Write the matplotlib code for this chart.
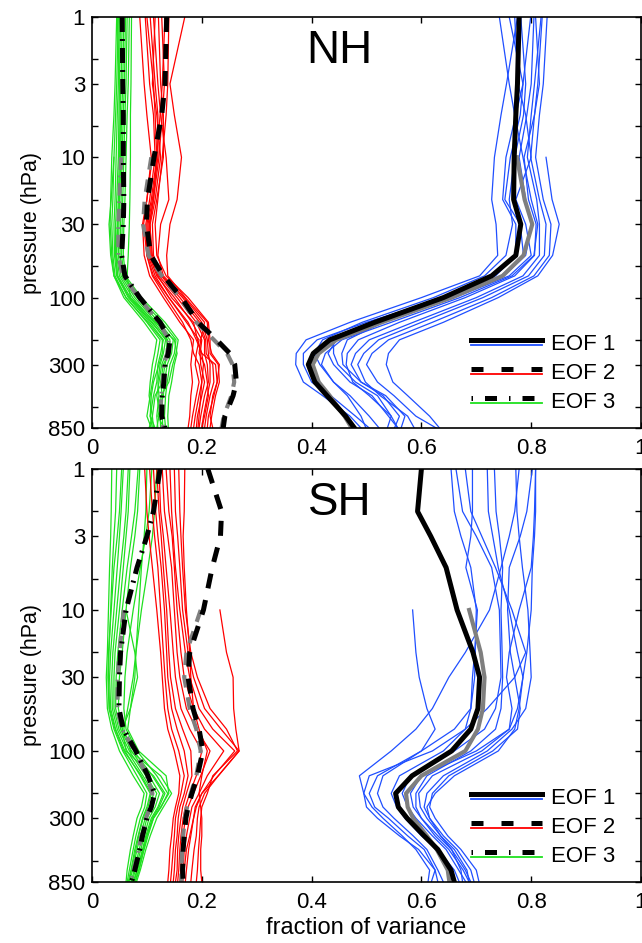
import numpy as np
import matplotlib
matplotlib.use("Agg")
import matplotlib.pyplot as plt
from matplotlib.lines import Line2D
from matplotlib.legend_handler import HandlerBase
from matplotlib.ticker import NullFormatter

plt.rcParams['font.family'] = ['Liberation Sans', 'DejaVu Sans']

NA = np.nan

# pressure levels (hPa)
lev_nh = [1, 3, 5, 10, 20, 30, 50, 70, 100, 150, 200, 250, 300, 400, 500, 700, 850]
lev_sh = [1, 2, 3, 5, 10, 20, 30, 50, 70, 100, 150, 200, 250, 300, 400, 500, 700, 850]

ytick_major = [1, 3, 10, 30, 100, 300, 850]
ytick_minor = [2, 6, 20, 60, 200, 600]
xtick_vals = [0, 0.2, 0.4, 0.6, 0.8, 1]
xtick_labs = ['0', '0.2', '0.4', '0.6', '0.8', '1']

# ---------------- NH ----------------
nh_eof1_ref = [0.778, 0.775, 0.772, 0.769, 0.768, 0.781, 0.772, 0.728, 0.640, 0.515, 0.433, 0.403, 0.394, 0.406, 0.428, 0.462, 0.478]
nh_eof1_gray = [NA, NA, NA, 0.774, 0.788, 0.802, 0.786, 0.748, 0.655, 0.528, 0.445, 0.413, 0.402, 0.413, 0.433, 0.460, 0.473]
nh_eof2_ref = [0.136, 0.133, 0.127, 0.113, 0.101, 0.099, 0.107, 0.130, 0.163, 0.193, 0.227, 0.251, 0.260, 0.263, 0.257, 0.242, 0.239]
nh_eof2_gray = [NA, NA, NA, 0.108, 0.096, 0.093, 0.103, 0.127, 0.160, 0.190, 0.222, 0.246, 0.256, 0.259, 0.254, 0.240, 0.236]
nh_eof3_ref = [0.055, 0.056, 0.057, 0.057, 0.058, 0.057, 0.054, 0.060, 0.087, 0.124, 0.142, 0.139, 0.133, 0.131, 0.128, 0.127, 0.133]
nh_eof3_gray = [NA, NA, NA, 0.053, 0.050, 0.048, 0.048, 0.056, 0.085, 0.122, 0.140, 0.137, 0.131, 0.129, 0.126, 0.125, 0.130]

nh_blue = [
    [0.742, 0.760, 0.770, 0.785, 0.800, 0.812, 0.805, 0.765, 0.670, 0.545, 0.455, 0.425, 0.418, 0.440, 0.470, 0.505, 0.523],
    [0.775, 0.755, 0.745, 0.733, 0.728, 0.736, 0.739, 0.706, 0.600, 0.470, 0.390, 0.372, 0.371, 0.385, 0.420, 0.470, 0.490],
    [0.781, 0.790, 0.786, 0.770, 0.760, 0.766, 0.754, 0.715, 0.622, 0.492, 0.420, 0.405, 0.415, 0.440, 0.465, 0.490, 0.499],
    [0.799, 0.785, 0.772, 0.754, 0.748, 0.772, 0.772, 0.735, 0.635, 0.505, 0.440, 0.440, 0.448, 0.480, 0.520, 0.545, 0.538],
    [0.805, 0.800, 0.792, 0.778, 0.790, 0.800, 0.790, 0.750, 0.650, 0.530, 0.465, 0.455, 0.457, 0.490, 0.530, 0.560, 0.551],
    [0.808, 0.815, 0.806, 0.787, 0.795, 0.809, 0.806, 0.770, 0.680, 0.560, 0.485, 0.465, 0.463, 0.475, 0.505, 0.545, 0.557],
    [0.818, 0.806, 0.800, 0.793, 0.810, 0.815, 0.815, 0.785, 0.700, 0.585, 0.505, 0.480, 0.472, 0.490, 0.535, 0.570, 0.563],
    [0.820, 0.812, 0.806, 0.799, 0.815, 0.827, 0.824, 0.795, 0.712, 0.600, 0.522, 0.495, 0.484, 0.498, 0.525, 0.575, 0.587],
    [0.829, 0.822, 0.815, 0.808, 0.822, 0.836, 0.833, 0.805, 0.728, 0.620, 0.540, 0.510, 0.500, 0.520, 0.550, 0.590, 0.627],
    [NA, NA, NA, 0.827, 0.838, 0.851, 0.839, 0.812, 0.740, 0.640, 0.560, 0.540, 0.536, 0.548, 0.575, 0.615, 0.633],
    [0.770, 0.776, 0.790, 0.800, 0.772, 0.790, 0.800, 0.760, 0.660, 0.520, 0.445, 0.430, 0.440, 0.470, 0.510, 0.540, 0.557],
    [0.760, 0.785, 0.780, 0.762, 0.752, 0.780, 0.786, 0.745, 0.645, 0.500, 0.410, 0.385, 0.385, 0.400, 0.435, 0.480, 0.505],
]

nh_red = [
    [0.087, 0.095, 0.100, 0.108, 0.100, 0.092, 0.095, 0.105, 0.130, 0.160, 0.185, 0.182, 0.180, 0.183, 0.180, 0.178, 0.175],
    [0.097, 0.105, 0.112, 0.115, 0.105, 0.098, 0.100, 0.112, 0.140, 0.172, 0.195, 0.190, 0.188, 0.195, 0.190, 0.183, 0.180],
    [0.106, 0.115, 0.120, 0.120, 0.110, 0.102, 0.104, 0.118, 0.150, 0.182, 0.200, 0.197, 0.198, 0.205, 0.200, 0.192, 0.190],
    [0.115, 0.110, 0.118, 0.125, 0.115, 0.106, 0.108, 0.122, 0.155, 0.190, 0.205, 0.205, 0.210, 0.212, 0.205, 0.198, 0.195],
    [0.121, 0.125, 0.130, 0.130, 0.118, 0.110, 0.112, 0.128, 0.165, 0.200, 0.210, 0.212, 0.215, 0.215, 0.210, 0.203, 0.200],
    [0.127, 0.132, 0.128, 0.122, 0.112, 0.105, 0.110, 0.126, 0.160, 0.196, 0.207, 0.208, 0.220, 0.222, 0.215, 0.208, 0.205],
    [0.133, 0.128, 0.124, 0.118, 0.108, 0.100, 0.102, 0.115, 0.140, 0.175, 0.190, 0.200, 0.225, 0.228, 0.222, 0.212, 0.210],
    [0.140, 0.138, 0.135, 0.128, 0.120, 0.115, 0.118, 0.135, 0.175, 0.212, 0.215, 0.215, 0.230, 0.232, 0.225, 0.218, 0.215],
    [0.169, 0.142, 0.150, 0.163, 0.155, 0.142, 0.136, 0.138, 0.170, 0.210, 0.212, 0.218, 0.232, 0.228, 0.220, 0.215, 0.220],
    [NA, NA, NA, 0.110, 0.100, 0.094, 0.100, 0.110, 0.135, 0.165, 0.180, 0.185, 0.195, 0.200, 0.195, 0.188, 0.185],
    [0.112, 0.120, 0.125, 0.135, 0.140, 0.125, 0.120, 0.130, 0.168, 0.205, 0.198, 0.195, 0.205, 0.210, 0.212, 0.205, 0.200],
    [0.100, 0.112, 0.115, 0.118, 0.112, 0.104, 0.106, 0.120, 0.145, 0.185, 0.192, 0.200, 0.203, 0.200, 0.198, 0.195, 0.193],
]

nh_green = [
    [0.045, 0.042, 0.040, 0.036, 0.034, 0.033, 0.036, 0.040, 0.058, 0.095, 0.118, 0.114, 0.110, 0.106, 0.104, 0.110, 0.104],
    [0.048, 0.045, 0.043, 0.040, 0.038, 0.036, 0.038, 0.042, 0.062, 0.100, 0.124, 0.120, 0.116, 0.110, 0.106, 0.100, 0.108],
    [0.050, 0.048, 0.046, 0.044, 0.042, 0.040, 0.041, 0.045, 0.066, 0.105, 0.130, 0.125, 0.120, 0.118, 0.112, 0.106, 0.115],
    [0.052, 0.050, 0.049, 0.048, 0.045, 0.043, 0.043, 0.047, 0.070, 0.110, 0.134, 0.130, 0.124, 0.120, 0.122, 0.118, 0.120],
    [0.055, 0.053, 0.051, 0.050, 0.048, 0.046, 0.045, 0.050, 0.074, 0.113, 0.138, 0.135, 0.127, 0.122, 0.118, 0.124, 0.125],
    [0.058, 0.056, 0.054, 0.052, 0.050, 0.049, 0.048, 0.053, 0.078, 0.117, 0.142, 0.140, 0.130, 0.125, 0.128, 0.128, 0.129],
    [0.061, 0.059, 0.057, 0.055, 0.053, 0.052, 0.051, 0.056, 0.082, 0.122, 0.148, 0.145, 0.137, 0.132, 0.130, 0.120, 0.131],
    [0.064, 0.062, 0.060, 0.058, 0.056, 0.055, 0.054, 0.058, 0.086, 0.128, 0.153, 0.150, 0.142, 0.137, 0.134, 0.132, 0.134],
    [0.068, 0.066, 0.064, 0.062, 0.060, 0.058, 0.057, 0.061, 0.090, 0.133, 0.157, 0.153, 0.147, 0.140, 0.126, 0.122, 0.118],
    [0.072, 0.071, 0.070, 0.070, 0.069, 0.068, 0.066, 0.064, 0.070, 0.115, 0.150, 0.155, 0.150, 0.145, 0.140, 0.138, 0.139],
    [NA, NA, NA, 0.040, 0.035, 0.031, 0.034, 0.040, 0.062, 0.102, 0.128, 0.128, 0.122, 0.112, 0.108, 0.106, 0.110],
    [0.046, 0.050, 0.052, 0.053, 0.050, 0.047, 0.044, 0.046, 0.068, 0.108, 0.136, 0.138, 0.133, 0.128, 0.115, 0.110, 0.112],
]

# ---------------- SH ----------------
sh_eof1_ref = [0.600, 0.593, 0.617, 0.645, 0.665, 0.694, 0.706, 0.703, 0.690, 0.655, 0.583, 0.553, 0.558, 0.574, 0.605, 0.630, 0.654, 0.660]
sh_eof1_gray = [NA, NA, NA, NA, 0.687, 0.708, 0.715, 0.712, 0.703, 0.680, 0.600, 0.572, 0.575, 0.585, 0.610, 0.628, 0.648, 0.651]
sh_eof2_ref = [0.211, 0.236, 0.234, 0.219, 0.203, 0.178, 0.175, 0.184, 0.195, 0.202, 0.192, 0.182, 0.175, 0.171, 0.168, 0.166, 0.165, 0.166]
sh_eof2_gray = [NA, NA, NA, NA, 0.198, 0.172, 0.168, 0.178, 0.190, 0.198, 0.190, 0.180, 0.173, 0.169, 0.166, 0.164, 0.163, 0.163]
sh_eof3_ref = [0.124, 0.112, 0.100, 0.082, 0.062, 0.052, 0.050, 0.049, 0.057, 0.080, 0.102, 0.114, 0.108, 0.100, 0.092, 0.087, 0.078, 0.072]
sh_eof3_gray = [NA, NA, NA, NA, 0.058, 0.050, 0.047, 0.046, 0.055, 0.078, 0.100, 0.110, 0.106, 0.098, 0.090, 0.085, 0.076, 0.070]

sh_blue = [
    [0.654, 0.660, 0.672, 0.690, 0.700, 0.698, 0.697, 0.690, 0.660, 0.600, 0.530, 0.520, 0.530, 0.550, 0.585, 0.610, 0.630, 0.640],
    [0.663, 0.675, 0.700, 0.728, 0.742, 0.744, 0.745, 0.735, 0.715, 0.660, 0.580, 0.565, 0.575, 0.590, 0.620, 0.645, 0.668, 0.681],
    [0.693, 0.693, 0.690, 0.681, 0.702, 0.697, 0.693, 0.690, 0.680, 0.640, 0.560, 0.545, 0.555, 0.570, 0.600, 0.630, 0.660, 0.669],
    [0.733, 0.736, 0.742, 0.748, 0.745, 0.747, 0.748, 0.745, 0.735, 0.690, 0.610, 0.590, 0.590, 0.600, 0.625, 0.650, 0.676, 0.687],
    [0.772, 0.774, 0.778, 0.784, 0.794, 0.798, 0.800, 0.790, 0.765, 0.720, 0.640, 0.610, 0.605, 0.615, 0.640, 0.665, 0.690, 0.696],
    [0.778, 0.770, 0.760, 0.745, 0.724, 0.680, 0.650, 0.620, 0.590, 0.545, 0.487, 0.495, 0.510, 0.530, 0.565, 0.590, 0.615, 0.612],
    [0.802, 0.792, 0.780, 0.760, 0.757, 0.762, 0.770, 0.780, 0.775, 0.730, 0.650, 0.620, 0.615, 0.625, 0.648, 0.672, 0.700, 0.705],
    [0.808, 0.806, 0.804, 0.800, 0.778, 0.760, 0.755, 0.765, 0.760, 0.710, 0.620, 0.595, 0.598, 0.610, 0.635, 0.660, 0.683, 0.687],
    [NA, NA, NA, NA, 0.584, 0.590, 0.596, 0.610, 0.625, 0.600, 0.520, 0.505, 0.515, 0.540, 0.575, 0.605, 0.625, 0.618],
    [0.808, 0.808, 0.806, 0.802, 0.800, 0.792, 0.785, 0.778, 0.770, 0.740, 0.660, 0.625, 0.610, 0.615, 0.635, 0.655, 0.672, 0.675],
    [0.720, 0.722, 0.730, 0.740, 0.760, 0.775, 0.785, 0.775, 0.760, 0.700, 0.600, 0.580, 0.585, 0.600, 0.630, 0.655, 0.680, 0.690],
    [0.680, 0.690, 0.710, 0.735, 0.765, 0.790, 0.770, 0.720, 0.680, 0.620, 0.505, 0.495, 0.500, 0.520, 0.560, 0.595, 0.625, 0.630],
]

sh_red = [
    [0.096, 0.100, 0.104, 0.110, 0.118, 0.125, 0.128, 0.132, 0.138, 0.150, 0.160, 0.158, 0.152, 0.148, 0.145, 0.142, 0.140, 0.138],
    [0.105, 0.110, 0.114, 0.120, 0.125, 0.130, 0.133, 0.138, 0.145, 0.158, 0.168, 0.162, 0.156, 0.152, 0.150, 0.148, 0.145, 0.143],
    [0.112, 0.116, 0.120, 0.126, 0.132, 0.136, 0.138, 0.145, 0.155, 0.168, 0.175, 0.168, 0.160, 0.157, 0.155, 0.152, 0.150, 0.148],
    [0.118, 0.122, 0.126, 0.130, 0.136, 0.140, 0.143, 0.152, 0.165, 0.180, 0.182, 0.172, 0.165, 0.162, 0.158, 0.156, 0.155, 0.152],
    [0.122, 0.125, 0.130, 0.135, 0.142, 0.148, 0.152, 0.162, 0.178, 0.200, 0.190, 0.178, 0.170, 0.166, 0.162, 0.160, 0.158, 0.156],
    [0.128, 0.132, 0.138, 0.145, 0.150, 0.155, 0.160, 0.172, 0.190, 0.215, 0.198, 0.185, 0.175, 0.170, 0.166, 0.163, 0.162, 0.160],
    [0.135, 0.140, 0.146, 0.150, 0.155, 0.162, 0.168, 0.185, 0.205, 0.240, 0.210, 0.195, 0.182, 0.178, 0.172, 0.168, 0.166, 0.165],
    [0.142, 0.145, 0.148, 0.152, 0.160, 0.170, 0.178, 0.195, 0.220, 0.260, 0.222, 0.200, 0.188, 0.185, 0.180, 0.176, 0.172, 0.170],
    [0.150, 0.152, 0.156, 0.160, 0.165, 0.175, 0.185, 0.205, 0.235, 0.268, 0.230, 0.205, 0.195, 0.192, 0.190, 0.186, 0.182, 0.180],
    [0.158, 0.160, 0.162, 0.165, 0.170, 0.180, 0.192, 0.215, 0.245, 0.265, 0.220, 0.210, 0.200, 0.198, 0.196, 0.194, 0.192, 0.190],
    [0.169, 0.168, 0.166, 0.168, 0.172, 0.178, 0.180, 0.185, 0.195, 0.210, 0.200, 0.195, 0.198, 0.200, 0.200, 0.198, 0.198, 0.200],
    [NA, NA, NA, NA, 0.233, 0.245, 0.257, 0.258, 0.262, 0.268, 0.230, 0.200, 0.190, 0.185, 0.178, 0.172, 0.168, 0.165],
]

sh_green = [
    [0.036, 0.035, 0.034, 0.032, 0.030, 0.028, 0.026, 0.028, 0.036, 0.050, 0.075, 0.095, 0.090, 0.082, 0.075, 0.070, 0.064, 0.062],
    [0.054, 0.050, 0.046, 0.040, 0.035, 0.030, 0.029, 0.031, 0.040, 0.056, 0.082, 0.100, 0.096, 0.088, 0.080, 0.075, 0.068, 0.064],
    [0.057, 0.053, 0.050, 0.046, 0.040, 0.034, 0.032, 0.034, 0.043, 0.060, 0.088, 0.106, 0.100, 0.092, 0.084, 0.078, 0.071, 0.066],
    [0.066, 0.062, 0.058, 0.052, 0.045, 0.038, 0.036, 0.037, 0.046, 0.064, 0.093, 0.112, 0.106, 0.097, 0.088, 0.082, 0.074, 0.068],
    [0.069, 0.066, 0.062, 0.057, 0.050, 0.042, 0.040, 0.040, 0.049, 0.068, 0.098, 0.118, 0.110, 0.100, 0.092, 0.086, 0.077, 0.071],
    [0.084, 0.078, 0.072, 0.064, 0.055, 0.047, 0.044, 0.043, 0.052, 0.072, 0.104, 0.123, 0.115, 0.104, 0.095, 0.089, 0.079, 0.073],
    [0.087, 0.083, 0.078, 0.070, 0.062, 0.055, 0.050, 0.048, 0.055, 0.076, 0.110, 0.130, 0.120, 0.108, 0.098, 0.092, 0.082, 0.075],
    [0.109, 0.104, 0.098, 0.088, 0.075, 0.064, 0.060, 0.058, 0.062, 0.082, 0.118, 0.138, 0.126, 0.112, 0.102, 0.095, 0.085, 0.078],
    [0.118, 0.114, 0.110, 0.102, 0.090, 0.080, 0.075, 0.065, 0.058, 0.070, 0.125, 0.145, 0.130, 0.118, 0.106, 0.098, 0.088, 0.081],
    [NA, NA, NA, NA, 0.062, 0.078, 0.083, 0.070, 0.065, 0.085, 0.135, 0.140, 0.125, 0.112, 0.100, 0.093, 0.083, 0.076],
    [0.100, 0.098, 0.095, 0.090, 0.085, 0.080, 0.078, 0.070, 0.055, 0.062, 0.112, 0.133, 0.122, 0.110, 0.100, 0.094, 0.086, 0.079],
    [0.045, 0.043, 0.040, 0.037, 0.034, 0.031, 0.030, 0.032, 0.042, 0.058, 0.090, 0.108, 0.102, 0.093, 0.085, 0.080, 0.072, 0.067],
]

BLUE = '#1f4fff'
RED = '#ff0000'
GREEN = '#1fe01f'
GRAY = '#7f7f7f'
DASH = (0, (3, 2.4))
DASHDOT = (0, (3, 1.4, 0.4, 1.4))
LW_THICK = 3.6
LW_GRAY = 3.0
LW_THIN = 0.9


class PairHandler(HandlerBase):
    # thick black line with the thin coloured line just below it
    def create_artists(self, legend, orig_handle, xdescent, ydescent,
                       width, height, fontsize, trans):
        thick, thin = orig_handle
        y0 = height * 0.5 - ydescent + 1.5
        arts = []
        for src, y in ((thin, y0 - 3.8), (thick, y0)):
            ln = Line2D([-xdescent, width - xdescent], [y, y])
            ln.update_from(src)
            ln.set_transform(trans)
            arts.append(ln)
        return arts


def draw_panel(ax, lev, blue, red, green, refs, grays, name):
    for vals in green:
        ax.plot(vals, lev, color=GREEN, lw=LW_THIN)
    for vals in red:
        ax.plot(vals, lev, color=RED, lw=LW_THIN)
    for vals in blue:
        ax.plot(vals, lev, color=BLUE, lw=LW_THIN)
    styles = ['-', DASH, DASHDOT]
    for vals, ls in zip(grays, styles):
        ax.plot(vals, lev, color=GRAY, lw=LW_GRAY, ls=ls)
    for vals, ls in zip(refs, styles):
        ax.plot(vals, lev, color='black', lw=LW_THICK, ls=ls)

    ax.set_yscale('log')
    ax.set_ylim(850, 1)
    ax.set_xlim(0, 1)
    ax.set_yticks(ytick_major)
    ax.set_yticklabels([str(t) for t in ytick_major])
    ax.set_yticks(ytick_minor, minor=True)
    ax.yaxis.set_minor_formatter(NullFormatter())
    ax.set_xticks(xtick_vals)
    ax.set_xticklabels(xtick_labs)
    ax.tick_params(which='both', direction='in', top=True, right=True,
                   length=4, width=1, labelsize=16)
    ax.tick_params(axis='y', pad=5)
    ax.tick_params(axis='x', pad=7)
    for s in ax.spines.values():
        s.set_linewidth(1.2)
    ax.set_ylabel('pressure (hPa)', fontsize=15.5, labelpad=4)
    ax.text(0.451, 0.918, name, transform=ax.transAxes, ha='center',
            va='center', fontsize=33)

    handles = [
        (Line2D([], [], color='black', lw=LW_THICK, ls='-'),
         Line2D([], [], color=BLUE, lw=1.3)),
        (Line2D([], [], color='black', lw=LW_THICK, ls=(0, (2.4, 3.6))),
         Line2D([], [], color=RED, lw=1.3)),
        (Line2D([], [], color='black', lw=LW_THICK, ls=(0, (0.3, 2.4, 2.4, 2.4))),
         Line2D([], [], color=GREEN, lw=1.3)),
    ]
    ax.legend(handles, ['EOF 1', 'EOF 2', 'EOF 3'],
              handler_map={tuple: PairHandler()},
              loc='lower left', bbox_to_anchor=(0.691, 0.037),
              frameon=False, fontsize=16, handlelength=3.2,
              handletextpad=0.4, labelspacing=0.36,
              borderpad=0, borderaxespad=0)


fig = plt.figure(figsize=(6.42, 9.43), dpi=100)
ax1 = fig.add_axes([92 / 642, (943 - 428) / 943, 549 / 642, 411 / 943])
ax2 = fig.add_axes([92 / 642, (943 - 882) / 943, 549 / 642, 413 / 943])

draw_panel(ax1, lev_nh, nh_blue, nh_red, nh_green,
           [nh_eof1_ref, nh_eof2_ref, nh_eof3_ref],
           [nh_eof1_gray, nh_eof2_gray, nh_eof3_gray], 'NH')
draw_panel(ax2, lev_sh, sh_blue, sh_red, sh_green,
           [sh_eof1_ref, sh_eof2_ref, sh_eof3_ref],
           [sh_eof1_gray, sh_eof2_gray, sh_eof3_gray], 'SH')
ax2.set_xlabel('fraction of variance', fontsize=17, labelpad=3)

fig.savefig('out.png', dpi=100)
